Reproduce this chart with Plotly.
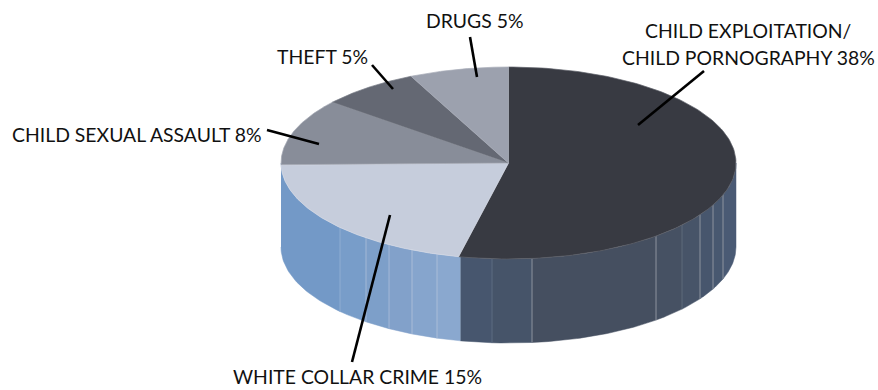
import numpy as np
import plotly.graph_objects as go

# Crime categories, clockwise from twelve o'clock
categories = ["CHILD EXPLOITATION/ CHILD PORNOGRAPHY", "WHITE COLLAR CRIME",
              "CHILD SEXUAL ASSAULT", "THEFT", "DRUGS"]
values = [38, 15, 8, 5, 5]
top_colors = ["#383a42", "#c6cddc", "#888d99", "#646873", "#9ca1ae"]
edge_colors = ["#5d6068", "#d5dae5", "#a3a8b3", "#7a7e88", "#a9adb9"]

# Disc geometry in plot units
CX, CY, RX, RY, DEPTH = 508.5, 163.0, 227.5, 96.0, 84.0

# Shaded facets on the wall of the disc: x of each facet edge and its colour
wall_edges = [281, 340, 366, 389, 412, 437, 460.5, 492, 532, 656, 682, 700, 713, 723, 736]
wall_colors = ["#7399c7", "#789dc9", "#7d9fc9", "#82a1ca", "#86a5cd", "#8aa8cf",
               "#47566e", "#465469", "#454f60", "#465163", "#475468", "#47566d",
               "#485870", "#4a5a74"]
wall_seams = ["#8fadd2", "#a3b8d6", "#a3b8d6", "#a9bcd8", "#a9bcd8", None,
              "#5d6c82", "#8d939e", "#8d939e", "#5f6a7b", "#8d939e", "#8d939e", "#8d939e"]

# Label rows: text, centre x, centre y
labels = [
    ("DRUGS 5%", 475, 20),
    ("THEFT 5%", 322, 56),
    ("CHILD SEXUAL ASSAULT 8%", 137, 134),
    ("CHILD EXPLOITATION/", 748, 30),
    ("CHILD PORNOGRAPHY 38%", 748, 57),
    ("WHITE COLLAR CRIME 15%", 357, 376),
]
# Leader lines: outer end, inner end
leaders = [
    (470, 37, 477, 77),
    (372, 65, 393, 89),
    (267, 130, 319, 144),
    (704, 71, 638, 125),
    (352, 362, 390, 215),
]


def rim(t):
    """Point on the top rim for a clockwise angle t (radians) from twelve o'clock."""
    return CX + RX * np.sin(t), CY - RY * np.cos(t)


def wall_angle(x):
    """Front-facing rim angle (radians) whose x position is x."""
    s = np.clip((x - CX) / RX, -1, 1)
    return np.pi - np.arcsin(s)


fig = go.Figure()


def polygon(xs, ys, fill, line=None, width=0):
    fig.add_trace(go.Scatter(
        x=xs, y=ys, mode="lines", fill="toself", fillcolor=fill,
        line=dict(color=line or fill, width=width if line else 0),
        hoverinfo="skip", showlegend=False,
    ))


# Wall facets, drawn first so the top face overlaps their upper rim
for i, color in enumerate(wall_colors):
    t = np.linspace(wall_angle(wall_edges[i]), wall_angle(wall_edges[i + 1]), 40)
    x, y = rim(t)
    polygon(np.r_[x, x[::-1]], np.r_[y, (y + DEPTH)[::-1]], color, color, 0.5)

for i, color in enumerate(wall_seams):
    if color is None:
        continue
    x, y = rim(wall_angle(wall_edges[i + 1]))
    fig.add_trace(go.Scatter(x=[x, x], y=[y, y + DEPTH], mode="lines",
                             line=dict(color=color, width=1),
                             hoverinfo="skip", showlegend=False))

# Top face: one wedge per category, sized by its share of the total
angles = np.r_[0, np.cumsum(values)] / np.sum(values) * 2 * np.pi
for i in range(len(values)):
    t = np.linspace(angles[i], angles[i + 1], 160)
    x, y = rim(t)
    polygon(np.r_[CX, x, CX], np.r_[CY, y, CY], top_colors[i], edge_colors[i], 0.7)

# Leader lines and labels
for x0, y0, x1, y1 in leaders:
    fig.add_trace(go.Scatter(x=[x0, x1], y=[y0, y1], mode="lines",
                             line=dict(color="#000000", width=2.6),
                             hoverinfo="skip", showlegend=False))

for text, x, y in labels:
    fig.add_annotation(x=x, y=y, text=text, showarrow=False, xanchor="center", yanchor="middle",
                       font=dict(family="Lato", size=19.4, color="#111111"))

fig.update_layout(
    width=878, height=390, margin=dict(l=0, r=0, t=0, b=0),
    paper_bgcolor="white", plot_bgcolor="white", showlegend=False,
    xaxis=dict(range=[0, 878], visible=False, fixedrange=True),
    yaxis=dict(range=[390, 0], visible=False, fixedrange=True),
)
fig.write_html("out.html", config={"displayModeBar": False})
